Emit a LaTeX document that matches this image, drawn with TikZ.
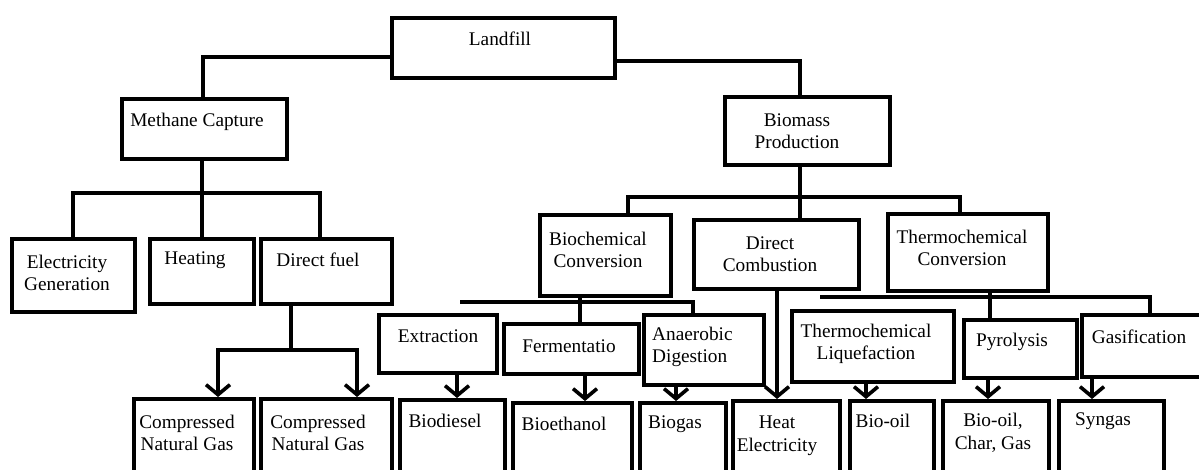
\documentclass[tikz,border=0pt]{standalone}
\usepackage{fontspec}
\setmainfont{Liberation Serif}
\usetikzlibrary{arrows.meta,calc}
\begin{document}
\begin{tikzpicture}[x=1pt,y=-1pt,
  box/.style={draw,line width=3.6pt,inner sep=0pt,anchor=north west},
  txt/.style={font=\fontsize{19.3}{22.5}\selectfont,inner sep=0pt,align=center},
  conn/.style={line width=3.6pt},
  arr/.style={line width=3.6pt,-{Straight Barb[length=10pt,width=24pt,line width=3.6pt]}}]
\useasboundingbox (0,0) rectangle (1199,469);
% boxes (x1,y1) size
\newcommand{\mkbox}[5]{\node[box,minimum width=#4pt,minimum height=#5pt] (#1) at (#2,#3) {};}
\mkbox{landfill}{390}{16}{223}{60}
\mkbox{methane}{120}{97}{165}{60}
\mkbox{biomass}{723}{95}{165}{68}
\mkbox{elec}{10}{237}{123}{73}
\mkbox{heating}{148}{237}{104}{65}
\mkbox{dfuel}{259}{237}{131}{65}
\mkbox{cngA}{132}{397}{120}{90}
\mkbox{cngB}{259}{397}{131}{90}
\mkbox{biochem}{538}{213}{131}{81}
\mkbox{dcomb}{692}{218}{165}{69}
\mkbox{thermo}{886}{212}{160}{77}
\mkbox{extraction}{377}{313}{118}{58}
\mkbox{ferm}{502}{322}{135}{50}
\mkbox{anaer}{642}{313}{120}{70}
\mkbox{biodiesel}{398}{398}{105}{90}
\mkbox{bioethanol}{511}{401}{119}{90}
\mkbox{biogas}{638}{401}{86}{90}
\mkbox{heat}{731}{399}{107}{90}
\mkbox{liquef}{790}{309}{162}{71}
\mkbox{pyro}{962}{318}{113}{58}
\mkbox{gasif}{1080}{313}{130}{62}
\mkbox{biooil}{848}{399}{84}{90}
\mkbox{biochar}{941}{399}{106}{90}
\mkbox{syngas}{1057}{399}{105}{90}
% texts
\node[txt] (tlandfill) at (500,39) {Landfill};
\node[txt] (tmethane) at (197,122) {Methane Capture};
\node[txt] (tbiomass) at (797,131) {Biomass\\Production};
\node[txt] (telec) at (67,273) {Electricity\\Generation};
\node[txt] (theating) at (195,260) {Heating};
\node[txt] (tdfuel) at (318,260) {Direct fuel};
\node[txt] (tcngA) at (187,433) {Compressed\\Natural Gas};
\node[txt] (tcngB) at (318,433) {Compressed\\Natural Gas};
\node[txt] (tbiochem) at (598,250) {Biochemical\\Conversion};
\node[txt] (tdcomb) at (770,254) {Direct\\Combustion};
\node[txt] (tthermo) at (962,248) {Thermochemical\\Conversion};
\node[txt] (textraction) at (438,336) {Extraction};
\node[txt] (tferm) at (569,346) {Fermentatio};
\node[txt,align=left,anchor=west] (tanaer) at (652,347) {Anaerobic\\Digestion};
\node[txt] (tbiodiesel) at (445,421) {Biodiesel};
\node[txt] (tbioethanol) at (564,424) {Bioethanol};
\node[txt] (tbiogas) at (675,424) {Biogas};
\node[txt] (theat) at (777,436) {Heat\\Electricity};
\node[txt] (tliquef) at (866,344) {Thermochemical\\Liquefaction};
\node[txt] (tpyro) at (1012,342) {Pyrolysis};
\node[txt] (tgasif) at (1139,337) {Gasification};
\node[txt] (tbiooil) at (883,421) {Bio-oil};
\node[txt] (tbiochar) at (993,433) {Bio-oil,\\Char, Gas};
\node[txt] (tsyngas) at (1103,421) {Syngas};
% connectors
\coordinate (lfl) at (203,57);
\coordinate (lfr) at (800,61);
\draw[conn] (lfl -| landfill.west) -- (lfl) -- (lfl |- methane.north);
\draw[conn] (lfr -| landfill.east) -- (lfr) -- (lfr |- biomass.north);
\coordinate (mj) at (202,193);
\coordinate (mjl) at (73,193);
\coordinate (mjr) at (320,193);
\draw[conn] (mj |- methane.south) -- (mj) -- (mj |- heating.north);
\draw[conn] (mjl |- elec.north) -- (mjl) -- (mjr) -- (mjr |- dfuel.north);
\coordinate (dfj) at (291,350);
\coordinate (dfl) at (218,350);
\coordinate (dfr) at (357,350);
\draw[conn] (dfj |- dfuel.south) -- (dfj);
\draw[arr] (dfj) -- (dfl) -- (dfl |- cngA.north);
\draw[arr] (dfj) -- (dfr) -- (dfr |- cngB.north);
\coordinate (bj) at (800,197);
\coordinate (bjl) at (628,197);
\coordinate (bjr) at (960,197);
\draw[conn] (bj |- biomass.south) -- (bj) -- (bj |- dcomb.north);
\draw[conn] (bjl |- biochem.north) -- (bjl) -- (bjr) -- (bjr |- thermo.north);
\coordinate (bcj) at (580,302);
\coordinate (bcl) at (460,302);
\coordinate (bcr) at (693,302);
\draw[conn] (bcj |- biochem.south) -- (bcj) -- (bcj |- ferm.north);
\draw[conn] (bcl) -- (bcr) -- (bcr |- anaer.north);
\coordinate (tcj) at (990,297);
\coordinate (tcl) at (820,297);
\coordinate (tcr) at (1150,297);
\draw[conn] (tcj |- thermo.south) -- (tcj) -- (tcj |- pyro.north);
\draw[conn] (tcl) -- (tcr) -- (tcr |- gasif.north);
% arrows down
\coordinate (a1) at (457,0);
\coordinate (a2) at (585,0);
\coordinate (a3) at (676,0);
\coordinate (a4) at (777,0);
\coordinate (a5) at (866,0);
\coordinate (a6) at (988,0);
\coordinate (a7) at (1092,0);
\draw[arr] (a1 |- extraction.south) -- (a1 |- biodiesel.north);
\draw[arr] (a2 |- ferm.south) -- (a2 |- bioethanol.north);
\draw[arr] (a3 |- anaer.south) -- (a3 |- biogas.north);
\draw[arr] (a4 |- dcomb.south) -- (a4 |- heat.north);
\draw[arr] (a5 |- liquef.south) -- (a5 |- biooil.north);
\draw[arr] (a6 |- pyro.south) -- (a6 |- biochar.north);
\draw[arr] (a7 |- gasif.south) -- (a7 |- syngas.north);
\end{tikzpicture}
\end{document}
